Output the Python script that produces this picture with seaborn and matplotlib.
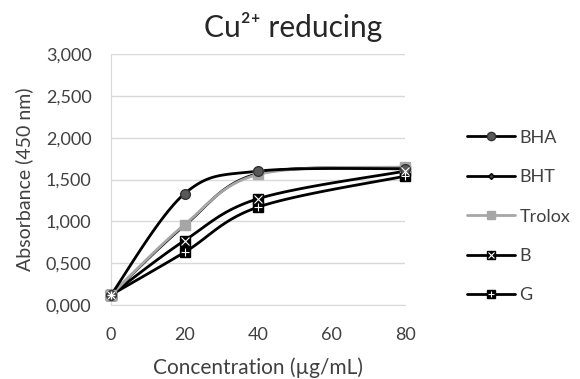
import numpy as np
import pandas as pd
import matplotlib
matplotlib.use("Agg")
import matplotlib.pyplot as plt
import seaborn as sns
from matplotlib.ticker import FuncFormatter

conc = [0, 20, 40, 80]
bha = [0.12, 1.33, 1.60, 1.63]
bht = [0.12, 0.95, 1.57, 1.63]
trolox = [0.12, 0.96, 1.56, 1.65]
b = [0.12, 0.77, 1.27, 1.60]
g = [0.12, 0.63, 1.17, 1.54]
names = ["BHA", "BHT", "Trolox", "B", "G"]


def smooth(xs, ys, n=30):
    # catmull-rom style smoothing, like excel "smoothed line"
    xs = np.asarray(xs, float)
    ys = np.asarray(ys, float)
    px, py = [], []
    for i in range(len(xs) - 1):
        x0, y0 = (xs[i - 1], ys[i - 1]) if i > 0 else (xs[i], ys[i])
        x3, y3 = (xs[i + 2], ys[i + 2]) if i + 2 < len(xs) else (xs[i + 1], ys[i + 1])
        x1, y1, x2, y2 = xs[i], ys[i], xs[i + 1], ys[i + 1]
        c1x, c1y = x1 + (x2 - x0) / 6, y1 + (y2 - y0) / 6
        c2x, c2y = x2 - (x3 - x1) / 6, y2 - (y3 - y1) / 6
        t = np.linspace(0, 1, n)
        px += list((1 - t) ** 3 * x1 + 3 * (1 - t) ** 2 * t * c1x + 3 * (1 - t) * t ** 2 * c2x + t ** 3 * x2)
        py += list((1 - t) ** 3 * y1 + 3 * (1 - t) ** 2 * t * c1y + 3 * (1 - t) * t ** 2 * c2y + t ** 3 * y2)
    return px, py


sns.set_style("white")
plt.rcParams['font.family'] = ['Lato', 'DejaVu Sans']

fig = plt.figure(figsize=(5.8, 3.79), dpi=100)
ax = fig.add_axes([111 / 580, 1 - 305 / 379, 294 / 580, 251 / 379])

series = {"BHA": bha, "BHT": bht, "Trolox": trolox, "B": b, "G": g}
colors = {"BHA": "black", "BHT": "black", "Trolox": "#a6a6a6", "B": "black", "G": "black"}
markers = {"BHA": "o", "BHT": "D", "Trolox": "s", "B": "s", "G": "s"}
msize = {"BHA": 7, "BHT": 3.5, "Trolox": 7, "B": 7.5, "G": 7.5}
mface = {"BHA": "#595959", "BHT": "#404040", "Trolox": "#a6a6a6", "B": "black", "G": "black"}
medge = {"BHA": "#333333", "BHT": "black", "Trolox": "#a6a6a6", "B": "black", "G": "black"}

rows = []
for nm in names:
    sx, sy = smooth(conc, series[nm])
    for k in range(len(sx)):
        rows.append((nm, k, sx[k], sy[k]))
curves = pd.DataFrame(rows, columns=["name", "k", "x", "y"])

for nm in ["G", "B", "BHT", "Trolox", "BHA"]:
    d = curves[curves["name"] == nm]
    sns.lineplot(data=d, x="x", y="y", sort=False, color=colors[nm], lw=2, ax=ax, clip_on=False)
    ax.plot(conc, series[nm], ls="none", marker=markers[nm], ms=msize[nm],
            mfc=mface[nm], mec=medge[nm], clip_on=False, zorder=5)
    if nm in ("B", "G"):
        ax.plot(conc, series[nm], ls="none", marker="+" if nm == "G" else "x", ms=6,
                mec="white", mew=0.8, clip_on=False, zorder=6)

ax.set_xlim(0, 80)
ax.set_ylim(0, 3.0)
ax.set_xticks([0, 20, 40, 60, 80])
ax.set_yticks(np.arange(0, 3.01, 0.5))
ax.yaxis.set_major_formatter(FuncFormatter(lambda v, p: f"{v:.3f}".replace(".", ",")))
ax.grid(axis="y", color="#d9d9d9", lw=1)
for s in ["top", "right"]:
    ax.spines[s].set_visible(False)
for s in ["left", "bottom"]:
    ax.spines[s].set_color("#d9d9d9")
ax.tick_params(axis="both", length=0, labelsize=13, colors="#404040")
ax.tick_params(axis="y", pad=14)
ax.tick_params(axis="x", pad=16)
ax.set_xlabel("Concentration (µg/mL)", fontsize=15, color="#404040", va="center")
ax.set_ylabel("Absorbance (450 nm)", fontsize=14, color="#404040", va="center")
ax.xaxis.set_label_coords(0.5, (305 - 368) / 251)
ax.yaxis.set_label_coords((24 - 111) / 294, 0.5)
fig.text(293 / 580, 1 - 27 / 379, "Cu²⁺ reducing", ha="center", va="center", fontsize=21.5, color="#262626")

# legend
handles = []
for nm in names:
    h, = ax.plot([], [], color=colors[nm], lw=2, marker=markers[nm], ms=msize[nm] * 0.85,
                 mfc=mface[nm], mec=medge[nm])
    if nm in ("B", "G"):
        h2, = ax.plot([], [], ls="none", marker="+" if nm == "G" else "x", ms=5,
                      mec="white", mew=0.8)
        h = (h, h2)
    handles.append(h)
fig.legend(handles, names, loc="center left", bbox_to_anchor=(467 / 580, 1 - 216.5 / 379),
           frameon=False, fontsize=13, labelcolor="#404040", labelspacing=1.3,
           handlelength=2.65, handletextpad=0.25, borderaxespad=0, borderpad=0)

plt.savefig("out.png", dpi=100)
